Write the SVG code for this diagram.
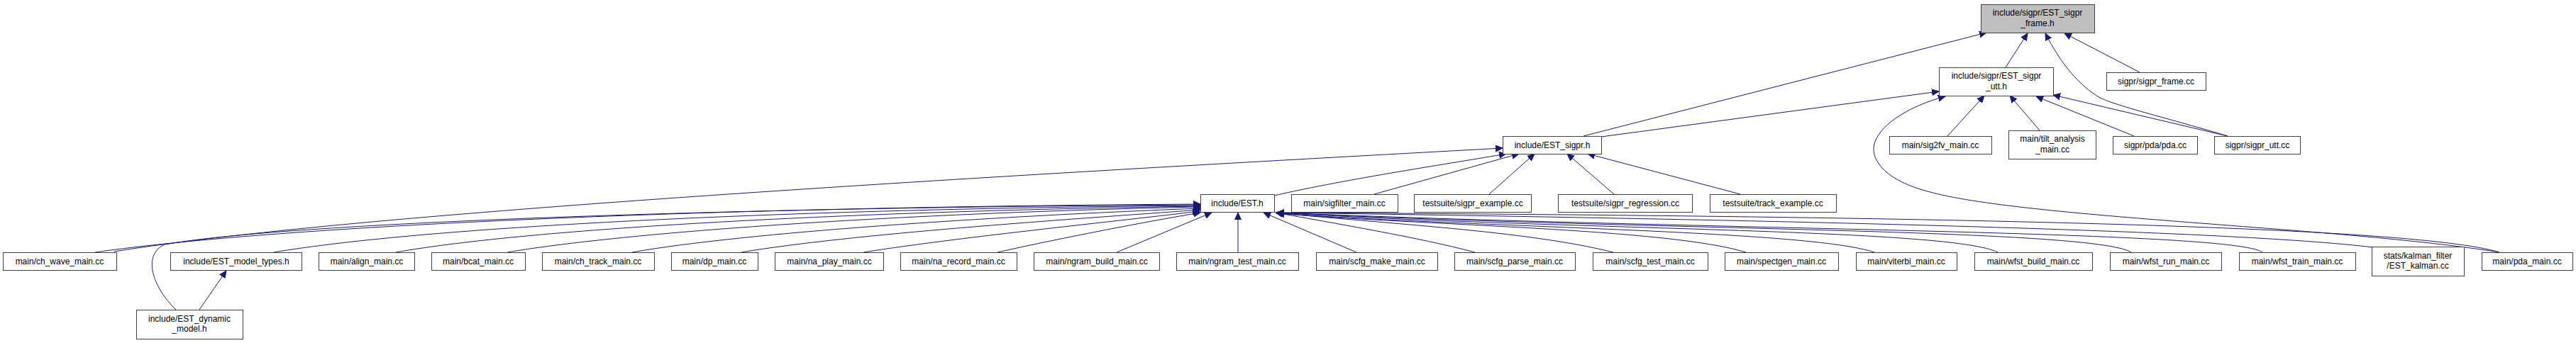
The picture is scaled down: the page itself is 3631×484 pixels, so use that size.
<svg xmlns="http://www.w3.org/2000/svg" width="3631" height="484" viewBox="0 0 3631 484">
<style>
.n rect{fill:#ffffff;stroke:#404040;stroke-width:1}
.n.g rect{fill:#bfbfbf}
.n text{font-family:"Liberation Sans",Arial,sans-serif;font-size:12px;fill:#000000;text-anchor:middle}
.e path{fill:none;stroke:#191970;stroke-width:1;marker-end:url(#ah)}
</style>
<defs>
<marker id="ah" markerWidth="11" markerHeight="10" refX="10" refY="5" orient="auto" markerUnits="userSpaceOnUse">
<path d="M0,0.5 L10,5 L0,9.5 z" fill="#191970" stroke="#191970" stroke-width="1"/>
</marker>
</defs>
<rect width="3631" height="484" fill="#ffffff"/>
<g id="edges" class="e">
<path d="M134,356 C400,318 1000,292 1692,288"/>
<path d="M161,355 C500,300 1400,248 2118,209"/>
<path d="M248,437 C215,405 200,360 232,345 C400,315 1000,293 1692,289"/>
<path d="M281,437 L319,382"/>
<path d="M386,356 C600,320 1100,295 1692,290"/>
<path d="M558,356 C750,322 1200,298 1692,291"/>
<path d="M715,356 C900,325 1300,300 1692,292"/>
<path d="M891,356 C1050,328 1400,305 1692,294"/>
<path d="M1045,356 C1200,330 1500,310 1692,296"/>
<path d="M1217,356 C1350,335 1550,315 1691,298"/>
<path d="M1406,356 C1500,335 1620,312 1692,300"/>
<path d="M1574,356 L1708,300"/>
<path d="M1745,356 L1745,300"/>
<path d="M1912,356 L1781,300"/>
<path d="M2079,356 C2000,335 1880,315 1798,300"/>
<path d="M2274,356 C2150,325 1950,316 1799,300"/>
<path d="M2461,356 C2350,322 2000,318 1800,301"/>
<path d="M2642,356 C2550,325 2100,322 1800,301"/>
<path d="M2816,356 C2750,322 2200,325 1800,300"/>
<path d="M3004,356 C2950,322 2300,325 1800,300"/>
<path d="M3189,356 C3150,325 2400,325 1800,300"/>
<path d="M3345,349 C3150,325 2500,310 1800,300"/>
<path d="M3523,356 C3400,318 2700,305 1800,300"/>
<path d="M1796,276 C1900,252 2050,230 2123,217"/>
<path d="M1937,274 L2141,217"/>
<path d="M2099,274 L2163,217"/>
<path d="M2275,274 L2209,217"/>
<path d="M2453,274 L2238,217"/>
<path d="M2232,192 L2800,46"/>
<path d="M2257,193 L2733,129"/>
<path d="M2827,95 L2858,47"/>
<path d="M3140,192 C3060,168 2985,150 2960,138 C2930,120 2905,90 2883,47"/>
<path d="M3016,102 L2910,47"/>
<path d="M2745,192 L2797,135"/>
<path d="M2875,184 L2833,135"/>
<path d="M3008,192 L2870,136"/>
<path d="M3140,192 L2894,134"/>
<path d="M3523,356 C3300,320 2850,308 2717,270 C2650,252 2635,220 2643,200 C2652,175 2690,150 2742,136"/>
</g>
<g id="n_top" class="n g"><rect x="2792.5" y="6.5" width="160" height="40"/><text x="2872" y="22">include/sigpr/EST_sigpr</text><text x="2872" y="37">_frame.h</text></g>
<g id="n_utt_h" class="n"><rect x="2733.5" y="95.5" width="161" height="40"/><text x="2814" y="111">include/sigpr/EST_sigpr</text><text x="2814" y="126">_utt.h</text></g>
<g id="n_frame_cc" class="n"><rect x="2969.5" y="102.5" width="140" height="25"/><text x="3039" y="119">sigpr/sigpr_frame.cc</text></g>
<g id="n_sigpr_h" class="n"><rect x="2118.5" y="192.5" width="139" height="25"/><text x="2188" y="209">include/EST_sigpr.h</text></g>
<g id="n_sig2fv" class="n"><rect x="2663.5" y="192.5" width="144" height="25"/><text x="2735" y="209">main/sig2fv_main.cc</text></g>
<g id="n_tilt" class="n"><rect x="2831.5" y="184.5" width="123" height="40"/><text x="2893" y="200">main/tilt_analysis</text><text x="2893" y="215">_main.cc</text></g>
<g id="n_pda_cc" class="n"><rect x="2978.5" y="192.5" width="119" height="25"/><text x="3038" y="209">sigpr/pda/pda.cc</text></g>
<g id="n_utt_cc" class="n"><rect x="3121.5" y="192.5" width="121" height="25"/><text x="3182" y="209">sigpr/sigpr_utt.cc</text></g>
<g id="n_est_h" class="n"><rect x="1692.5" y="274.5" width="104" height="25"/><text x="1744" y="291">include/EST.h</text></g>
<g id="n_sigfilter" class="n"><rect x="1820.5" y="274.5" width="150" height="25"/><text x="1895" y="291">main/sigfilter_main.cc</text></g>
<g id="n_sigpr_example" class="n"><rect x="1993.5" y="274.5" width="165" height="25"/><text x="2076" y="291">testsuite/sigpr_example.cc</text></g>
<g id="n_sigpr_regression" class="n"><rect x="2196.5" y="274.5" width="189" height="25"/><text x="2291" y="291">testsuite/sigpr_regression.cc</text></g>
<g id="n_track_example" class="n"><rect x="2410.5" y="274.5" width="178" height="25"/><text x="2499" y="291">testsuite/track_example.cc</text></g>
<g id="n_ch_wave" class="n"><rect x="4.5" y="356.5" width="160" height="25"/><text x="84" y="373">main/ch_wave_main.cc</text></g>
<g id="n_model_types" class="n"><rect x="240.5" y="356.5" width="185" height="25"/><text x="333" y="373">include/EST_model_types.h</text></g>
<g id="n_align" class="n"><rect x="449.5" y="356.5" width="135" height="25"/><text x="517" y="373">main/align_main.cc</text></g>
<g id="n_bcat" class="n"><rect x="608.5" y="356.5" width="132" height="25"/><text x="674" y="373">main/bcat_main.cc</text></g>
<g id="n_ch_track" class="n"><rect x="764.5" y="356.5" width="158" height="25"/><text x="843" y="373">main/ch_track_main.cc</text></g>
<g id="n_dp" class="n"><rect x="946.5" y="356.5" width="122" height="25"/><text x="1007" y="373">main/dp_main.cc</text></g>
<g id="n_na_play" class="n"><rect x="1092.5" y="356.5" width="153" height="25"/><text x="1169" y="373">main/na_play_main.cc</text></g>
<g id="n_na_record" class="n"><rect x="1269.5" y="356.5" width="164" height="25"/><text x="1351" y="373">main/na_record_main.cc</text></g>
<g id="n_ngram_build" class="n"><rect x="1457.5" y="356.5" width="177" height="25"/><text x="1546" y="373">main/ngram_build_main.cc</text></g>
<g id="n_ngram_test" class="n"><rect x="1658.5" y="356.5" width="172" height="25"/><text x="1744" y="373">main/ngram_test_main.cc</text></g>
<g id="n_scfg_make" class="n"><rect x="1855.5" y="356.5" width="171" height="25"/><text x="1941" y="373">main/scfg_make_main.cc</text></g>
<g id="n_scfg_parse" class="n"><rect x="2050.5" y="356.5" width="170" height="25"/><text x="2135" y="373">main/scfg_parse_main.cc</text></g>
<g id="n_scfg_test" class="n"><rect x="2245.5" y="356.5" width="162" height="25"/><text x="2326" y="373">main/scfg_test_main.cc</text></g>
<g id="n_spectgen" class="n"><rect x="2431.5" y="356.5" width="160" height="25"/><text x="2511" y="373">main/spectgen_main.cc</text></g>
<g id="n_viterbi" class="n"><rect x="2616.5" y="356.5" width="142" height="25"/><text x="2687" y="373">main/viterbi_main.cc</text></g>
<g id="n_wfst_build" class="n"><rect x="2783.5" y="356.5" width="166" height="25"/><text x="2866" y="373">main/wfst_build_main.cc</text></g>
<g id="n_wfst_run" class="n"><rect x="2974.5" y="356.5" width="157" height="25"/><text x="3053" y="373">main/wfst_run_main.cc</text></g>
<g id="n_wfst_train" class="n"><rect x="3156.5" y="356.5" width="164" height="25"/><text x="3238" y="373">main/wfst_train_main.cc</text></g>
<g id="n_kalman" class="n"><rect x="3343.5" y="348.5" width="130" height="41"/><text x="3408" y="365">stats/kalman_filter</text><text x="3408" y="379">/EST_kalman.cc</text></g>
<g id="n_pda_main" class="n"><rect x="3498.5" y="356.5" width="128" height="25"/><text x="3562" y="373">main/pda_main.cc</text></g>
<g id="n_dynamic_model" class="n"><rect x="192.5" y="437.5" width="150" height="41"/><text x="267" y="454">include/EST_dynamic</text><text x="267" y="468">_model.h</text></g>
</svg>
